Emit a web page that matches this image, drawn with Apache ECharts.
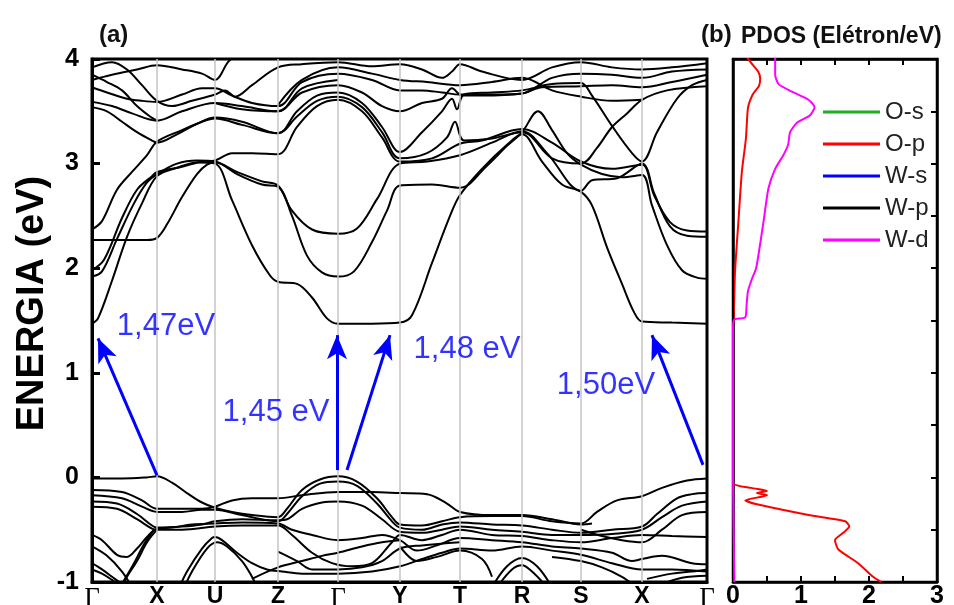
<!DOCTYPE html>
<html>
<head>
<meta charset="utf-8">
<script src="https://cdn.jsdelivr.net/npm/echarts@6/dist/echarts.min.js"></script>
<style>
html,body{margin:0;padding:0;background:#fff;}
#chart{width:954px;height:605px;}
</style>
</head>
<body>
<div id="chart"></div>
<script>
// High-symmetry path of the Brillouin zone
const kLabels = ['Γ', 'X', 'U', 'Z', 'Γ', 'Y', 'T', 'R', 'S', 'X', 'Γ'];
const kPositions = [0, 0.65, 1.23, 1.86, 2.46, 3.08, 3.68, 4.30, 4.89, 5.50, 6.15];
const energyTicks = [-1, 0, 1, 2, 3, 4];
const pdosTicks = [0, 1, 2, 3];

// Conduction bands, [k, E(eV)]
const conductionBands = [
  [[0,1.47],[0.06,1.52],[0.2,1.88],[0.35,2.3],[0.5,2.62],[0.65,2.88],[0.85,2.96],[1.05,3.01],[1.23,3.0],[1.4,2.65],[1.6,2.22],[1.78,1.93],[1.86,1.87],[2.05,1.85],[2.2,1.72],[2.35,1.52],[2.46,1.47],[2.8,1.47],[3.08,1.48],[3.2,1.55],[3.4,2.05],[3.58,2.5],[3.68,2.70],[3.9,2.95],[4.15,3.18],[4.30,3.28],[4.5,3.02],[4.7,2.8],[4.89,2.73],[5.0,2.6],[5.15,2.2],[5.3,1.85],[5.42,1.58],[5.5,1.49],[5.8,1.48],[6.15,1.47]],
  [[0,1.92],[0.1,1.97],[0.25,2.28],[0.42,2.62],[0.55,2.82],[0.65,2.9],[0.85,3.0],[1.05,3.03],[1.23,3.02],[1.45,2.9],[1.7,2.8],[1.86,2.78],[2.0,2.5],[2.15,2.12],[2.3,1.96],[2.46,1.92],[2.62,1.97],[2.8,2.25],[2.95,2.55],[3.08,2.79],[3.4,2.80],[3.68,2.77],[3.95,2.98],[4.15,3.17],[4.30,3.3],[4.46,3.5],[4.6,3.32],[4.75,3.1],[4.89,2.99],[5.1,2.9],[5.3,2.87],[5.5,2.89],[5.6,2.6],[5.75,2.22],[5.9,1.98],[6.05,1.91],[6.15,1.90]],
  [[0,2.27],[0.3,2.27],[0.55,2.27],[0.65,2.29],[0.75,2.42],[0.9,2.68],[1.05,2.9],[1.15,2.99],[1.23,3.01],[1.45,2.92],[1.7,2.83],[1.86,2.79],[2.0,2.55],[2.2,2.37],[2.46,2.33],[2.65,2.38],[2.85,2.66],[3.08,3.0],[3.35,3.02],[3.68,3.08],[4.0,3.2],[4.30,3.31],[4.55,3.1],[4.89,2.74],[5.0,2.84],[5.25,2.86],[5.5,3.0],[5.62,2.7],[5.78,2.44],[5.95,2.36],[6.15,2.35]],
  [[0,2.37],[0.1,2.45],[0.25,2.75],[0.4,2.92],[0.55,3.08],[0.65,3.21],[0.9,3.32],[1.1,3.4],[1.23,3.43],[1.5,3.37],[1.86,3.29],[2.05,3.45],[2.25,3.6],[2.46,3.64],[2.7,3.54],[2.9,3.3],[3.08,3.05],[3.35,3.1],[3.55,3.25],[3.63,3.40],[3.72,3.22],[4.0,3.24],[4.3,3.30],[4.6,3.05],[4.89,3.0],[5.05,3.15],[5.2,3.35],[5.35,3.48],[5.5,3.61],[5.75,3.7],[6.15,3.74]],
  [[0,1.98],[0.12,2.08],[0.3,2.48],[0.45,2.75],[0.6,2.88],[0.65,2.92],[0.9,2.97],[1.1,3.02],[1.23,3.03],[1.4,3.1],[1.6,3.1],[1.86,3.09],[2.05,3.35],[2.25,3.55],[2.46,3.61],[2.7,3.5],[2.9,3.25],[3.08,3.02],[3.4,3.05],[3.68,3.19],[3.9,3.22],[4.3,3.33],[4.6,3.2],[4.89,3.02],[5.2,2.95],[5.5,2.99],[5.62,2.72],[5.78,2.4],[5.95,2.31],[6.15,2.30]],
  [[0,3.54],[0.15,3.5],[0.3,3.4],[0.45,3.3],[0.6,3.22],[0.65,3.2],[0.85,3.28],[1.05,3.38],[1.23,3.44],[1.5,3.4],[1.86,3.29],[2.05,3.5],[2.25,3.65],[2.46,3.68],[2.7,3.58],[2.9,3.35],[3.08,3.11],[3.3,3.3],[3.5,3.5],[3.6,3.62],[3.65,3.52],[3.72,3.66],[4.0,3.68],[4.3,3.7],[4.6,3.76],[4.89,3.77],[5.0,3.65],[5.2,3.36],[5.4,3.1],[5.5,3.02],[5.65,3.3],[5.85,3.62],[6.0,3.75],[6.15,3.8]],
  [[0,3.59],[0.2,3.55],[0.4,3.48],[0.65,3.41],[0.9,3.5],[1.23,3.58],[1.5,3.55],[1.86,3.5],[2.1,3.68],[2.46,3.75],[2.7,3.68],[2.9,3.55],[3.08,3.5],[3.3,3.58],[3.5,3.62],[3.6,3.72],[3.7,3.65],[3.9,3.65],[4.3,3.67],[4.5,3.73],[4.89,3.74],[5.2,3.75],[5.5,3.73],[5.8,3.78],[6.15,3.85]],
  [[0,3.73],[0.15,3.68],[0.35,3.62],[0.5,3.6],[0.65,3.59],[0.9,3.66],[1.1,3.72],[1.23,3.72],[1.4,3.65],[1.6,3.58],[1.86,3.55],[2.1,3.78],[2.46,3.86],[2.8,3.8],[3.08,3.70],[3.3,3.7],[3.5,3.68],[3.68,3.66],[4.0,3.66],[4.3,3.67],[4.6,3.82],[4.89,3.86],[5.2,3.85],[5.5,3.82],[5.8,3.88],[6.15,3.9]],
  [[0,3.80],[0.2,3.85],[0.45,3.9],[0.65,3.94],[0.9,3.9],[1.1,3.86],[1.23,3.8],[1.36,3.97],[1.45,4.05]],
  [[0,3.85],[0.15,3.78],[0.3,3.7],[0.45,3.55],[0.58,3.45],[0.65,3.41]],
  [[0,3.92],[0.2,3.97],[0.35,3.9],[0.5,3.75],[0.65,3.6],[0.8,3.55],[1.0,3.6],[1.23,3.66],[1.33,3.70],[1.43,3.64],[1.6,3.75],[1.86,3.92],[2.1,3.95],[2.46,3.97],[2.8,3.93],[3.08,3.95],[3.3,3.9],[3.5,3.82],[3.6,3.88],[3.68,3.95],[3.9,3.88],[4.3,3.8],[4.6,3.92],[4.89,3.97],[5.2,3.92],[5.5,3.9],[5.8,3.92],[6.15,3.96]],
  [[1.86,3.56],[2.1,3.8],[2.46,3.92],[2.8,3.86],[3.08,3.8],[3.35,3.78],[3.68,3.75],[4.0,3.78],[4.3,3.82],[4.6,3.7],[4.89,3.64],[5.2,3.6],[5.5,3.61]],
  [[1.23,3.58],[1.5,3.52],[1.86,3.50],[2.1,3.72],[2.46,3.80]]
];

// Valence bands, [k, E(eV)]
const valenceBands = [
  [[0,-0.01],[0.3,-0.01],[0.55,0.0],[0.65,0.01],[0.8,-0.05],[0.95,-0.15],[1.1,-0.24],[1.23,-0.29],[1.4,-0.33],[1.6,-0.36],[1.86,-0.38],[1.95,-0.3],[2.1,-0.12],[2.28,-0.02],[2.46,0.01],[2.65,-0.04],[2.85,-0.2],[3.0,-0.38],[3.08,-0.45],[3.3,-0.46],[3.5,-0.42],[3.68,-0.38],[4.0,-0.37],[4.30,-0.37],[4.6,-0.42],[4.89,-0.44],[5.05,-0.33],[5.25,-0.22],[5.5,-0.18],[5.7,-0.1],[5.95,-0.03],[6.15,-0.01]],
  [[0,-0.12],[0.3,-0.14],[0.5,-0.22],[0.65,-0.30],[0.9,-0.30],[1.1,-0.3],[1.23,-0.28],[1.4,-0.22],[1.6,-0.2],[1.86,-0.2],[2.1,-0.17],[2.46,-0.14],[2.8,-0.14],[3.08,-0.15],[3.35,-0.16],[3.55,-0.25],[3.68,-0.33],[4.0,-0.36],[4.30,-0.36],[4.6,-0.4],[4.89,-0.45],[5.0,-0.44]],
  [[0,-0.17],[0.3,-0.2],[0.5,-0.28],[0.65,-0.33],[0.9,-0.33],[1.1,-0.31],[1.23,-0.31],[1.5,-0.36],[1.86,-0.42],[1.95,-0.35],[2.1,-0.18],[2.28,-0.06],[2.46,-0.04],[2.65,-0.08],[2.85,-0.25],[3.0,-0.42],[3.08,-0.48],[3.3,-0.5],[3.5,-0.45],[3.68,-0.43],[4.0,-0.45],[4.3,-0.46],[4.6,-0.5],[4.89,-0.53],[5.2,-0.5],[5.5,-0.47],[5.65,-0.35],[5.85,-0.2],[6.0,-0.16],[6.15,-0.15]],
  [[0,-0.23],[0.25,-0.25],[0.45,-0.35],[0.6,-0.46],[0.65,-0.48],[0.9,-0.47],[1.1,-0.45],[1.23,-0.42],[1.5,-0.4],[1.86,-0.41],[1.95,-0.4],[2.1,-0.3],[2.3,-0.24],[2.46,-0.23],[2.7,-0.27],[2.9,-0.4],[3.08,-0.52],[3.3,-0.53],[3.5,-0.5],[3.68,-0.47],[4.0,-0.5],[4.3,-0.52],[4.6,-0.55],[4.89,-0.55],[5.2,-0.54],[5.5,-0.5],[5.7,-0.38],[5.9,-0.27],[6.15,-0.23]],
  [[0,-0.28],[0.25,-0.3],[0.45,-0.4],[0.6,-0.49],[0.65,-0.5],[0.9,-0.5],[1.23,-0.47],[1.5,-0.46],[1.86,-0.46],[2.0,-0.55],[2.2,-0.72],[2.4,-0.82],[2.6,-0.85],[2.8,-0.82],[3.0,-0.62],[3.08,-0.55],[3.3,-0.6],[3.5,-0.55],[3.68,-0.5],[4.0,-0.55],[4.3,-0.56],[4.6,-0.6],[4.89,-0.62],[5.2,-0.58],[5.5,-0.55],[5.8,-0.56],[6.15,-0.57]],
  [[0,-0.55],[0.1,-0.6],[0.25,-0.74],[0.35,-0.76],[0.45,-0.68],[0.55,-0.57],[0.65,-0.49],[0.8,-0.48],[1.0,-0.45],[1.23,-0.44],[1.5,-0.43],[1.86,-0.44],[2.0,-0.5],[2.2,-0.55],[2.46,-0.6],[2.7,-0.58],[2.9,-0.55],[3.08,-0.6],[3.25,-0.7],[3.45,-0.65],[3.68,-0.58],[4.0,-0.6],[4.3,-0.62],[4.6,-0.66],[4.89,-0.68],[5.2,-0.72],[5.4,-0.8],[5.5,-0.78],[5.7,-0.75],[6.0,-0.82],[6.15,-0.83]],
  [[0.85,-1.1],[0.95,-0.9],[1.1,-0.68],[1.2,-0.58],[1.23,-0.57],[1.3,-0.6],[1.45,-0.72],[1.6,-0.82],[1.75,-0.88],[1.9,-0.9],[2.1,-0.92],[2.46,-0.92],[2.8,-0.9],[3.08,-0.85],[3.3,-0.78],[3.5,-0.72],[3.68,-0.68],[4.0,-0.7],[4.3,-0.66],[4.6,-0.7],[4.89,-0.74],[5.2,-0.82],[5.5,-0.88],[5.8,-0.88],[6.15,-0.9]],
  [[0.9,-1.1],[1.0,-0.9],[1.15,-0.68],[1.25,-0.62],[1.35,-0.66],[1.5,-0.8],[1.6,-0.95],[1.65,-1.05]],
  [[0.65,-0.5],[0.55,-0.62],[0.45,-0.8],[0.35,-0.95],[0.3,-1.05]],
  [[0.62,-0.5],[0.52,-0.64],[0.42,-0.82],[0.33,-0.97],[0.28,-1.05]],
  [[0,-0.66],[0.15,-0.75],[0.3,-0.9],[0.4,-1.05]],
  [[0,-0.82],[0.1,-0.88],[0.2,-0.95],[0.3,-1.02]],
  [[0,-0.88],[0.1,-0.92],[0.2,-0.98],[0.27,-1.03]],
  [[1.86,-0.71],[2.05,-0.8],[2.2,-0.88],[2.46,-0.88],[2.7,-0.86],[2.9,-0.8],[3.08,-0.68],[3.3,-0.65],[3.68,-0.62]],
  [[1.6,-0.97],[1.86,-0.86],[2.1,-0.8],[2.3,-0.75],[2.46,-0.72],[2.7,-0.66],[2.9,-0.62],[3.08,-0.6]],
  [[3.08,-0.66],[3.25,-0.8],[3.45,-0.76],[3.68,-0.7],[3.9,-0.78],[4.0,-0.95]],
  [[4.0,-1.05],[4.15,-0.85],[4.3,-0.77],[4.45,-0.85],[4.6,-1.05]],
  [[4.05,-1.05],[4.2,-0.88],[4.3,-0.84],[4.4,-0.9],[4.55,-1.05]],
  [[4.89,-0.5],[5.1,-0.56],[5.3,-0.6],[5.5,-0.62],[5.7,-0.5],[5.9,-0.36],[6.15,-0.33]],
  [[4.6,-0.76],[4.89,-0.8],[5.1,-0.86],[5.3,-0.95],[5.42,-1.03]],
  [[5.55,-0.97],[5.8,-0.92],[6.0,-0.9],[6.15,-0.88]],
  [[5.7,-1.02],[5.9,-0.96],[6.15,-0.94]]
];

// Projected density of states, [value, E(eV)]
const pdosOs = [[0.0,-1.0],[0.0,4.0]];
const pdosOp = [[0.20,4.02],[0.27,3.96],[0.37,3.88],[0.40,3.81],[0.38,3.74],[0.29,3.66],[0.22,3.53],[0.19,3.24],[0.13,2.92],[0.08,2.45],[0.03,1.97],[0.01,1.52],[0.0,1.45],[0.0,-0.05],[0.27,-0.10],[0.50,-0.13],[0.35,-0.15],[0.50,-0.17],[0.18,-0.22],[0.37,-0.26],[1.11,-0.36],[1.65,-0.42],[1.71,-0.47],[1.62,-0.53],[1.50,-0.60],[1.55,-0.69],[1.84,-0.82],[2.06,-0.95],[2.18,-1.0]];
const pdosWs = [[0.0,-1.0],[0.0,4.0]];
const pdosWp = [[0.0,-1.0],[0.0,4.0]];
const pdosWd = [[0.62,4.02],[0.62,3.85],[0.67,3.76],[0.86,3.69],[1.11,3.61],[1.20,3.54],[1.13,3.46],[0.94,3.39],[0.84,3.30],[0.81,3.18],[0.74,3.08],[0.62,2.95],[0.52,2.76],[0.45,2.45],[0.38,2.15],[0.34,2.0],[0.28,1.9],[0.22,1.78],[0.20,1.65],[0.18,1.53],[0.02,1.51],[0.0,1.45],[0.0,0.0],[0.02,-1.0]];

// Band-gap annotations: [valence end, conduction end]
const gapArrows = [
  [[0.65, 0.02], [0.06, 1.33]],
  [[2.45, 0.07], [2.45, 1.36]],
  [[2.55, 0.07], [2.98, 1.36]],
  [[6.11, 0.12], [5.60, 1.36]]
];
const gapLabels = [
  { text: '1,47eV', at: [0.74, 1.44] },
  { text: '1,45 eV', at: [1.84, 0.62] },
  { text: '1,48 eV', at: [3.75, 1.22] },
  { text: '1,50eV', at: [5.14, 0.88] }
];

const FONT = 'Liberation Sans, Arial, sans-serif';
const chart = echarts.init(document.getElementById('chart'), null, { renderer: 'canvas' });

const bandSeries = conductionBands.concat(valenceBands).map(function (pts) {
  return {
    type: 'line', xAxisIndex: 0, yAxisIndex: 0, data: pts,
    showSymbol: false, symbol: 'none', smooth: 0.35, silent: true, z: 3,
    lineStyle: { color: '#000', width: 2 }
  };
});

const pdosSeries = [
  { name: 'O-s', data: pdosOs, color: '#1fb01f' },
  { name: 'O-p', data: pdosOp, color: '#ff0000' },
  { name: 'W-s', data: pdosWs, color: '#0000ff' },
  { name: 'W-p', data: pdosWp, color: '#000000' },
  { name: 'W-d', data: pdosWd, color: '#ff00ff' }
].map(function (s) {
  return {
    name: s.name, type: 'line', xAxisIndex: 1, yAxisIndex: 1, data: s.data,
    showSymbol: false, symbol: 'none', smooth: 0.2, silent: true, z: 3,
    itemStyle: { color: s.color },
    lineStyle: { color: s.color, width: 2 }
  };
});

const option = {
  animation: false,
  backgroundColor: '#fff',
  title: [
    { text: '(a)', left: 94, top: 18, textStyle: { fontFamily: FONT, fontSize: 24, fontWeight: 'bold', color: '#111' } },
    { text: '(b)', left: 696, top: 18, textStyle: { fontFamily: FONT, fontSize: 24, fontWeight: 'bold', color: '#111' } },
    { text: 'PDOS (Elétron/eV)', left: 736, top: 20, textStyle: { fontFamily: FONT, fontSize: 23, fontWeight: 'bold', color: '#111' } }
  ],
  legend: {
    orient: 'vertical', left: 818, top: 94,
    itemWidth: 57, itemHeight: 3, itemGap: 6, icon: 'rect',
    textStyle: { fontFamily: FONT, fontSize: 24, color: '#222', lineHeight: 26 },
    data: ['O-s', 'O-p', 'W-s', 'W-p', 'W-d']
  },
  grid: [
    { left: 92, right: 247, top: 59, bottom: 23, outerBoundsMode: 'none', containLabel: false, show: true, borderColor: '#000', borderWidth: 3, backgroundColor: 'transparent' },
    { left: 733, right: 17, top: 59, bottom: 23, outerBoundsMode: 'none', containLabel: false, show: true, borderColor: '#000', borderWidth: 2.5, backgroundColor: 'transparent' }
  ],
  xAxis: [
    {
      gridIndex: 0, type: 'value', min: 0, max: kPositions[kPositions.length - 1],
      axisLine: { show: true, onZero: false, lineStyle: { color: '#000', width: 3 } },
      axisTick: { show: false },
      splitLine: { show: false },
      axisLabel: {
        show: true, customValues: kPositions, margin: 3,
        fontFamily: FONT, fontSize: 23, fontWeight: 'bold', color: '#000',
        formatter: function (v) {
          const i = kPositions.indexOf(v);
          const name = i >= 0 ? kLabels[i] : '';
          return name === 'Γ' ? '{g|Γ}' : name;
        },
        rich: { g: { fontFamily: 'Liberation Serif, DejaVu Serif, serif', fontSize: 27, fontWeight: 'normal', color: '#000' } }
      }
    },
    {
      gridIndex: 1, type: 'value', min: 0, max: 3, interval: 0.5,
      axisLine: { show: true, onZero: false, lineStyle: { color: '#000', width: 2.5 } },
      axisTick: { show: true, inside: true, length: 6, lineStyle: { color: '#000', width: 2 } },
      splitLine: { show: false },
      axisLabel: {
        margin: 2, fontFamily: FONT, fontSize: 25, fontWeight: 'bold', color: '#000',
        formatter: function (v) { return pdosTicks.indexOf(v) >= 0 ? String(v) : ''; }
      }
    },
    {
      gridIndex: 1, type: 'value', min: 0, max: 3, interval: 0.5, position: 'top',
      axisLine: { show: true, onZero: false, lineStyle: { color: '#000', width: 2.5 } },
      axisTick: { show: true, inside: true, length: 6, lineStyle: { color: '#000', width: 2 } },
      splitLine: { show: false }, axisLabel: { show: false }
    }
  ],
  yAxis: [
    {
      gridIndex: 0, type: 'value', min: -1, max: 4, interval: 1,
      name: 'ENERGIA (eV)', nameLocation: 'middle', nameGap: 40, nameRotate: 90,
      nameMoveOverlap: false,
      nameTextStyle: { fontFamily: FONT, fontSize: 38, fontWeight: 'bold', color: '#000', padding: [0, 0, 0, 34] },
      axisLine: { show: true, onZero: false, lineStyle: { color: '#000', width: 3 } },
      axisTick: { show: true, inside: true, length: 8, lineStyle: { color: '#000', width: 3 } },
      splitLine: { show: false },
      axisLabel: {
        margin: 13, fontFamily: FONT, fontSize: 25, fontWeight: 'bold', color: '#000',
        customValues: energyTicks
      }
    },
    {
      gridIndex: 1, type: 'value', min: -1, max: 4, interval: 0.5,
      axisLine: { show: true, onZero: false, lineStyle: { color: '#000', width: 2.5 } },
      axisTick: { show: false }, axisLabel: { show: false }, splitLine: { show: false }
    },
    {
      gridIndex: 1, type: 'value', min: -1, max: 4, interval: 0.5, position: 'right',
      axisLine: { show: true, onZero: false, lineStyle: { color: '#000', width: 2.5 } },
      axisTick: { show: true, inside: true, length: 6, lineStyle: { color: '#000', width: 2 } },
      axisLabel: { show: false }, splitLine: { show: false }
    }
  ],
  series: [
    {
      // vertical guides at the high-symmetry points
      type: 'line', xAxisIndex: 0, yAxisIndex: 0, data: [], silent: true, z: 1,
      markLine: {
        silent: true, symbol: 'none', animation: false,
        label: { show: false },
        lineStyle: { color: '#c4c4c4', width: 1.5, type: 'solid' },
        data: kPositions.slice(1, -1).map(function (k) { return { xAxis: k }; })
      }
    }
  ].concat(bandSeries).concat([
    {
      // band-gap arrows
      type: 'line', xAxisIndex: 0, yAxisIndex: 0, data: [], silent: true, z: 5,
      markLine: {
        silent: true, animation: false,
        symbol: ['none', 'arrow'], symbolSize: [15, 24],
        label: { show: false },
        lineStyle: { color: '#0000ff', width: 3, type: 'solid' },
        data: gapArrows.map(function (a) { return [{ coord: a[0] }, { coord: a[1] }]; })
      }
    },
    {
      type: 'scatter', xAxisIndex: 0, yAxisIndex: 0, silent: true, z: 6,
      symbolSize: 1, itemStyle: { color: 'rgba(0,0,0,0)' },
      data: gapLabels.map(function (g) { return { value: g.at, name: g.text }; }),
      label: {
        show: true, position: 'inside', formatter: '{b}',
        fontFamily: FONT, fontSize: 31, color: '#0000ff'
      }
    }
  ]).concat(pdosSeries)
};

chart.setOption(option);
</script>
</body>
</html>
